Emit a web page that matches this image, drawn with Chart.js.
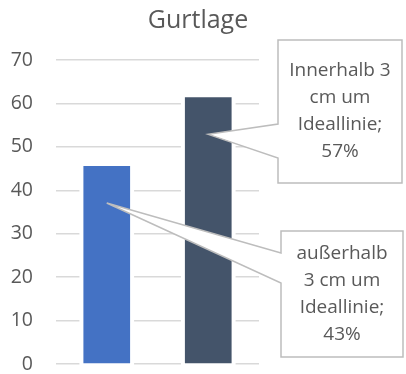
<!DOCTYPE html>
<html>
<head>
<meta charset="utf-8">
<script src="https://cdn.jsdelivr.net/npm/chart.js@4"></script>
<style>
  html, body { margin: 0; padding: 0; background: #fff; }
  canvas { display: block; }
</style>
</head>
<body>
<canvas id="c" width="406" height="374"></canvas>
<script>
// Chart data
const chartTitle = 'Gurtlage';
const categories = [
  ['außerhalb', '3 cm um', 'Ideallinie'],
  ['Innerhalb 3', 'cm um', 'Ideallinie']
];
const values = [45.6, 61.4];
const barColors = ['#4472C4', '#44546A'];
const yTicks = [0, 10, 20, 30, 40, 50, 60, 70];

const FONT = '"Open Sans", "Noto Sans", sans-serif';
const TEXT = '#595959';

// Callout boxes for the data labels, one per bar (box edges and wedge base on the left edge)
const calloutBoxes = [
  { l: 281, t: 231, r: 403, b: 357, wTop: 253, wBot: 283 },
  { l: 278, t: 40,  r: 402, b: 183, wTop: 124, wBot: 158 }
];

const total = values.reduce((a, b) => a + b, 0);
function labelLines(i) {
  const lines = categories[i].slice();
  lines[lines.length - 1] += ';';
  lines.push(Math.round(values[i] / total * 100) + '%');
  return lines;
}

// White margin around each bar so the gridlines stop short of it
const barGap = {
  id: 'barGap',
  beforeDatasetsDraw(chart) {
    const ctx = chart.ctx;
    ctx.save();
    ctx.fillStyle = '#fff';
    chart.getDatasetMeta(0).data.forEach(el => {
      const p = el.getProps(['x', 'y', 'base', 'width'], true);
      ctx.fillRect(p.x - p.width / 2 - 4, p.y, p.width + 8, p.base - p.y + 2);
    });
    ctx.restore();
  }
};

// Callout data labels with a wedge pointing into the bar
const callouts = {
  id: 'callouts',
  afterDatasetsDraw(chart) {
    const ctx = chart.ctx;
    ctx.save();
    chart.getDatasetMeta(0).data.forEach((el, i) => {
      const p = el.getProps(['x', 'y'], true);
      const bx = calloutBoxes[i];
      const tipX = p.x, tipY = p.y + 37;
      ctx.beginPath();
      ctx.moveTo(bx.l, bx.t);
      ctx.lineTo(bx.r, bx.t);
      ctx.lineTo(bx.r, bx.b);
      ctx.lineTo(bx.l, bx.b);
      ctx.lineTo(bx.l, bx.wBot);
      ctx.lineTo(tipX, tipY);
      ctx.lineTo(bx.l, bx.wTop);
      ctx.closePath();
      ctx.fillStyle = '#fff';
      ctx.fill();
      ctx.strokeStyle = '#bdbdbd';
      ctx.lineWidth = 1.5;
      ctx.lineJoin = 'miter';
      ctx.stroke();

      const lines = labelLines(i);
      const lh = 27;
      const cx = (bx.l + bx.r) / 2;
      const cy = (bx.t + bx.b) / 2;
      ctx.fillStyle = TEXT;
      ctx.font = '19px ' + FONT;
      ctx.textAlign = 'center';
      ctx.textBaseline = 'middle';
      lines.forEach((s, k) => {
        ctx.fillText(s, cx, cy + (k - (lines.length - 1) / 2) * lh);
      });
    });
    ctx.restore();
  }
};

new Chart(document.getElementById('c'), {
  type: 'bar',
  data: {
    labels: categories,
    datasets: [{
      data: values,
      backgroundColor: barColors,
      borderWidth: 0,
      barPercentage: 0.46,
      categoryPercentage: 1
    }]
  },
  options: {
    responsive: false,
    animation: false,
    events: [],
    layout: { padding: { top: 0, left: 0, right: 10, bottom: 10 } },
    plugins: {
      legend: { display: false },
      tooltip: { enabled: false },
      title: {
        display: true,
        text: chartTitle,
        color: TEXT,
        font: { family: FONT, size: 25, weight: 'normal' },
        padding: { top: 6, bottom: 24 }
      }
    },
    scales: {
      x: { display: false },
      y: {
        min: 0,
        max: 70,
        afterBuildTicks: s => { s.ticks = yTicks.map(v => ({ value: v })); },
        afterFit: s => { s.width = 56; s.paddingTop = 0; s.paddingBottom = 0; },
        grid: { color: '#d9d9d9', lineWidth: 1.5, drawTicks: false },
        border: { display: false },
        ticks: {
          color: TEXT,
          padding: 23,
          font: { family: FONT, size: 19.5 }
        }
      },
      y2: {
        position: 'right',
        display: true,
        afterFit: s => { s.width = 137; s.paddingTop = 0; s.paddingBottom = 0; },
        grid: { display: false, drawTicks: false },
        border: { display: false },
        ticks: { display: false }
      }
    }
  },
  plugins: [barGap, callouts]
});
</script>
</body>
</html>
